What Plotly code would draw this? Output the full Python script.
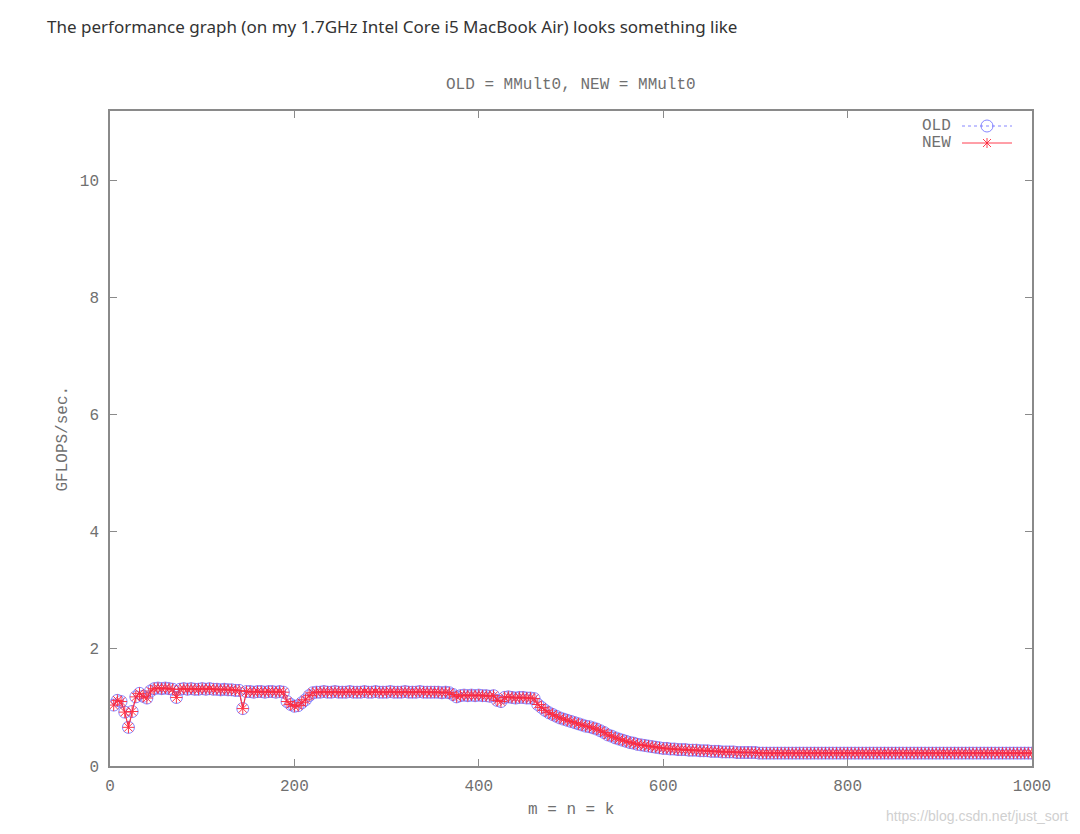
import plotly.graph_objects as go

# matrix sizes m = n = k
sizes = list(range(4, 1001, 4))

# GFLOPS/sec (OLD = MMult0)
gflops_old = [
    1.04, 1.12, 1.10, 0.92, 0.66, 0.93, 1.18, 1.24, 1.19, 1.16,   # 4..40
    1.28, 1.32, 1.33, 1.32, 1.33, 1.32, 1.31, 1.17, 1.31, 1.32,   # 44..80
    1.31, 1.32, 1.31, 1.31, 1.32, 1.31, 1.32, 1.31, 1.31, 1.30,   # 84..120
    1.31, 1.30, 1.30, 1.29, 1.29, 0.98, 1.27, 1.27, 1.26, 1.27,   # 124..160
    1.27, 1.26, 1.27, 1.27, 1.26, 1.27, 1.26, 1.10, 1.05, 1.02,   # 164..200
    1.03, 1.08, 1.13, 1.20, 1.25, 1.26, 1.26, 1.27, 1.26, 1.26,   # 204..240
    1.27, 1.26, 1.26, 1.26, 1.27, 1.26, 1.26, 1.26, 1.27, 1.26,   # 244..280
    1.26, 1.27, 1.26, 1.26, 1.26, 1.27, 1.26, 1.26, 1.26, 1.27,   # 284..320
    1.26, 1.26, 1.26, 1.27, 1.26, 1.26, 1.26, 1.26, 1.26, 1.25,   # 324..360
    1.26, 1.25, 1.22, 1.18, 1.20, 1.21, 1.20, 1.21, 1.20, 1.21,   # 364..400
    1.20, 1.20, 1.19, 1.20, 1.12, 1.10, 1.17, 1.18, 1.17, 1.16,   # 404..440
    1.17, 1.17, 1.16, 1.16, 1.15, 1.05, 1.00, 0.95, 0.91, 0.88,   # 444..480
    0.85, 0.82, 0.80, 0.78, 0.76, 0.74, 0.72, 0.70, 0.68, 0.67,   # 484..520
    0.65, 0.63, 0.60, 0.57, 0.53, 0.51, 0.48, 0.46, 0.44, 0.42,   # 524..560
    0.40, 0.39, 0.37, 0.36, 0.35, 0.34, 0.33, 0.32, 0.31, 0.30,   # 564..600
    0.30, 0.29, 0.29, 0.28, 0.28, 0.28, 0.27, 0.27, 0.27, 0.26,   # 604..640
    0.26, 0.26, 0.25, 0.25, 0.25, 0.24, 0.24, 0.24, 0.24, 0.23,   # 644..680
    0.23, 0.23, 0.23, 0.23, 0.23, 0.22, 0.22, 0.22, 0.22, 0.22,   # 684..720
    0.22, 0.22, 0.22, 0.22, 0.22, 0.22, 0.22, 0.22, 0.22, 0.22,   # 724..760
    0.22, 0.22, 0.22, 0.22, 0.22, 0.22, 0.22, 0.22, 0.22, 0.22,   # 764..800
    0.22, 0.22, 0.22, 0.22, 0.22, 0.22, 0.22, 0.22, 0.22, 0.22,   # 804..840
    0.22, 0.22, 0.22, 0.22, 0.22, 0.22, 0.22, 0.22, 0.22, 0.22,   # 844..880
    0.22, 0.22, 0.22, 0.22, 0.22, 0.22, 0.22, 0.22, 0.22, 0.22,   # 884..920
    0.22, 0.22, 0.22, 0.22, 0.22, 0.22, 0.22, 0.22, 0.22, 0.22,   # 924..960
    0.22, 0.22, 0.22, 0.22, 0.22, 0.22, 0.22, 0.22, 0.22, 0.22,   # 964..1000
]
# NEW = MMult0 as well, so identical readings
gflops_new = list(gflops_old)

x_ticks = [0, 200, 400, 600, 800, 1000]
y_ticks = [0, 2, 4, 6, 8, 10]

MONO = "Liberation Mono, Courier New, monospace"
BLUE = "rgb(95,95,255)"
RED = "rgb(255,30,50)"
AX = "#8a8a8a"
TXT = "#707070"

fig = go.Figure()
fig.add_trace(go.Scatter(
    x=sizes, y=gflops_old, name="OLD", mode="lines+markers",
    line=dict(color=BLUE, width=1, dash="dot"),
    marker=dict(symbol="circle-open", size=12, color=BLUE, line=dict(width=1, color=BLUE)),
    opacity=0.75,
))
fig.add_trace(go.Scatter(
    x=sizes, y=gflops_new, name="NEW", mode="lines+markers",
    line=dict(color=RED, width=1.2),
    marker=dict(symbol="asterisk-open", size=10, color=RED, line=dict(width=1, color=RED)),
    opacity=0.9,
))

# page body has an 8px margin; work in page pixels and convert
OFF = 8
W, H = 1080 - OFF, 834 - OFF
PL, PR, PT, PB = 110, 1032, 111, 766  # plot box in page pixels
L, T = PL - OFF, PT - OFF
R, B = W - (PR - OFF), H - (PB - OFF)
pw, ph = PR - PL, PB - PT


def px(xp):
    return (xp - PL) / pw


def py(yp):
    return (PB - yp) / ph


annotations = [
    dict(text="The performance graph (on my 1.7GHz Intel Core i5 MacBook Air) looks something like",
         x=px(45), y=py(27), xref="paper", yref="paper", xanchor="left", yanchor="middle",
         showarrow=False, font=dict(family="Noto Sans, Open Sans, sans-serif", size=17, color="#333333")),
    dict(text="OLD = MMult0, NEW = MMult0", x=0.5, y=py(85), xref="paper", yref="paper",
         xanchor="center", yanchor="middle", showarrow=False, font=dict(family=MONO, size=16, color=TXT)),
    dict(text="GFLOPS/sec.", x=px(62), y=0.5, xref="paper", yref="paper", textangle=-90,
         xanchor="center", yanchor="middle", showarrow=False, font=dict(family=MONO, size=16, color=TXT)),
    dict(text="m = n = k", x=0.5, y=py(810), xref="paper", yref="paper",
         xanchor="center", yanchor="middle", showarrow=False, font=dict(family=MONO, size=16, color=TXT)),
    dict(text="https://blog.csdn.net/just_sort", x=px(1070), y=py(816), xref="paper", yref="paper",
         xanchor="right", yanchor="middle", showarrow=False,
         font=dict(family="Liberation Sans, Arial, sans-serif", size=14, color="#d0d0d0")),
    dict(text="OLD", x=px(953), y=py(126), xref="paper", yref="paper",
         xanchor="right", yanchor="middle", showarrow=False, font=dict(family=MONO, size=16, color=TXT)),
    dict(text="NEW", x=px(953), y=py(143), xref="paper", yref="paper",
         xanchor="right", yanchor="middle", showarrow=False, font=dict(family=MONO, size=16, color=TXT)),
]

# legend keys (gnuplot style: text left of sample)
shapes = [
    dict(type="line", xref="paper", yref="paper", x0=px(962), x1=px(1012), y0=py(126), y1=py(126),
         line=dict(color=BLUE, width=1, dash="dot"), opacity=0.75),
    dict(type="circle", xref="paper", yref="paper", x0=px(981), x1=px(993), y0=py(132), y1=py(120),
         line=dict(color=BLUE, width=1), opacity=0.75),
    dict(type="line", xref="paper", yref="paper", x0=px(962), x1=px(1012), y0=py(143), y1=py(143),
         line=dict(color=RED, width=1), opacity=0.85),
    dict(type="line", xref="paper", yref="paper", x0=px(987), x1=px(987), y0=py(138), y1=py(148),
         line=dict(color=RED, width=1), opacity=0.85),
    dict(type="line", xref="paper", yref="paper", x0=px(983), x1=px(991), y0=py(139), y1=py(147),
         line=dict(color=RED, width=1), opacity=0.85),
    dict(type="line", xref="paper", yref="paper", x0=px(983), x1=px(991), y0=py(147), y1=py(139),
         line=dict(color=RED, width=1), opacity=0.85),
]

fig.update_layout(
    width=W, height=H,
    margin=dict(l=L, r=R, t=T, b=B),
    paper_bgcolor="white", plot_bgcolor="white",
    showlegend=False,
    annotations=annotations,
    shapes=shapes,
    xaxis=dict(range=[0, 1000], tickvals=x_ticks, ticktext=[str(v) for v in x_ticks],
               showgrid=False, zeroline=False, showline=True, linecolor=AX, linewidth=1.5,
               mirror="ticks", ticks="inside", ticklen=7, tickcolor=AX, tickwidth=1,
               tickfont=dict(family=MONO, size=16, color=TXT), ticklabelstandoff=4),
    yaxis=dict(range=[0, 11.18], tickvals=y_ticks, ticktext=[str(v) for v in y_ticks],
               showgrid=False, zeroline=False, showline=True, linecolor=AX, linewidth=1.5,
               mirror="ticks", ticks="inside", ticklen=7, tickcolor=AX, tickwidth=1,
               tickfont=dict(family=MONO, size=16, color=TXT), ticklabelstandoff=6),
)

fig.write_html("out.html")
